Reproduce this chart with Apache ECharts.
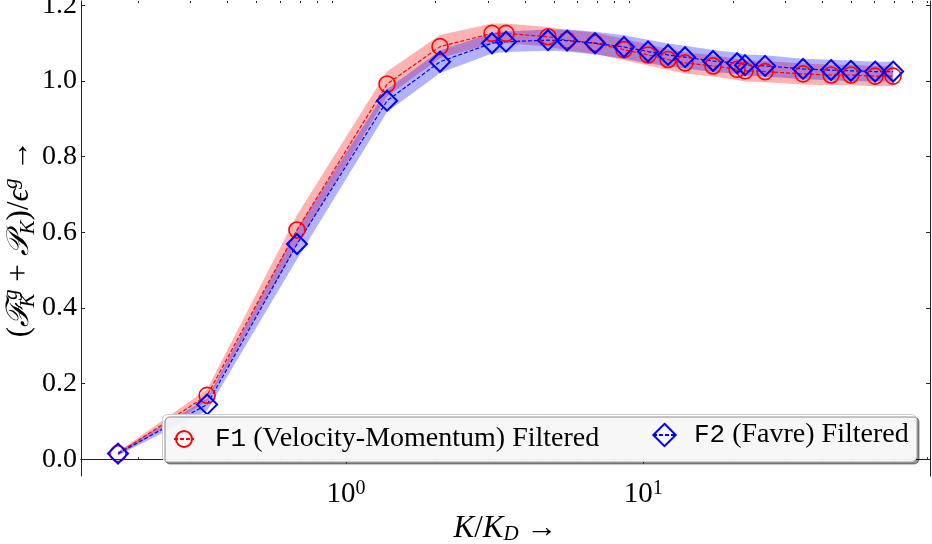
<!DOCTYPE html>
<html><head><meta charset="utf-8">
<script src="https://cdn.jsdelivr.net/npm/echarts@6/dist/echarts.min.js"></script>
<style>html,body{margin:0;padding:0;background:#fff}#c{width:932px;height:544px}</style>
</head><body><div id="c"></div>
<script>
// ---- data ----
const kRatio = [0.171, 0.341, 0.684, 1.374, 2.071, 3.098, 3.452, 4.779, 5.538, 6.879, 8.61, 10.37, 12.11, 13.81, 17.16, 20.67, 21.98, 25.67, 34.45, 42.8, 49.9, 60.2, 69.2];
const f1Values = [0.015, 0.169, 0.606, 0.992, 1.091, 1.126, 1.126, 1.117, 1.108, 1.100, 1.083, 1.069, 1.057, 1.048, 1.040, 1.031, 1.027, 1.025, 1.019, 1.016, 1.016, 1.013, 1.013];
const f2Values = [0.015, 0.145, 0.569, 0.948, 1.051, 1.100, 1.104, 1.108, 1.107, 1.100, 1.090, 1.078, 1.069, 1.063, 1.053, 1.047, 1.042, 1.040, 1.032, 1.029, 1.027, 1.025, 1.025];
const f1Spread = [0.005, 0.016, 0.040, 0.033, 0.031, 0.026, 0.026, 0.026, 0.027, 0.028, 0.028, 0.028, 0.028, 0.028, 0.028, 0.028, 0.028, 0.028, 0.028, 0.027, 0.027, 0.027, 0.027];
const f2Spread = [0.005, 0.016, 0.040, 0.030, 0.030, 0.027, 0.027, 0.028, 0.029, 0.030, 0.031, 0.031, 0.030, 0.030, 0.029, 0.028, 0.028, 0.028, 0.027, 0.027, 0.027, 0.026, 0.026];
const seriesNames = ['F1 (Velocity-Momentum) Filtered', 'F2 (Favre) Filtered'];
const yTicks = [0.0, 0.2, 0.4, 0.6, 0.8, 1.0, 1.2];
const xMajorTicks = [1, 10];
const xMinorTicks = [0.2, 0.3, 0.4, 0.5, 0.6, 0.7, 0.8, 0.9, 2, 3, 4, 5, 6, 7, 8, 9, 20, 30, 40, 50, 60, 70, 80, 90];

const SERIF = "'Liberation Serif', 'DejaVu Serif', serif";
const MONO = "'Liberation Mono', 'DejaVu Sans Mono', monospace";
const X_MIN = 0.1284, X_MAX = 92.1, Y_MIN = -0.0442, Y_MAX = 1.2116;
const AX = '#222';
const gridPos = { left: 81, right: 2, top: 1, bottom: 68, containLabel: false, outerBoundsMode: 'none' };

function bandSeries(name, vals, spread, color) {
  return {
    type: 'custom', name: name, silent: true, z: 1,
    xAxisIndex: 0, yAxisIndex: 0,
    encode: { x: 0, y: 1 },
    data: kRatio.map((k, i) => [k, vals[i]]),
    renderItem: function (params, api) {
      if (params.dataIndex !== 0) return;
      const upper = kRatio.map((k, i) => api.coord([k, vals[i] + spread[i]]));
      const lower = kRatio.map((k, i) => api.coord([k, vals[i] - spread[i]])).reverse();
      return { type: 'polygon', shape: { points: upper.concat(lower) }, style: { fill: color } };
    }
  };
}

function lineSeries(name, vals, color, symbol, size, bw) {
  return {
    type: 'line', name: name, z: 3,
    xAxisIndex: 0, yAxisIndex: 0,
    data: kRatio.map((k, i) => [k, vals[i]]),
    symbol: symbol, symbolSize: size, showAllSymbol: true,
    lineStyle: { color: color, width: 1.2, type: [4, 2] },
    itemStyle: { color: 'rgba(0,0,0,0)', borderColor: color, borderWidth: bw },
    emphasis: { disabled: true }
  };
}

const xLogBase = { type: 'log', logBase: 10, min: X_MIN, max: X_MAX, splitLine: { show: false } };
const legendFmt = function (name) {
  const code = name.slice(0, 2);
  const rest = name.slice(2);
  return '{m|' + code + '}{s|' + rest + '}';
};
const legendRich = function (pad) {
  return {
    m: { fontFamily: MONO, fontSize: 26, color: '#000', padding: [0, 0, 0, pad] },
    s: { fontFamily: SERIF, fontSize: 28, color: '#000' }
  };
};

const option = {
  animation: false,
  backgroundColor: '#fff',
  grid: [Object.assign({}, gridPos), Object.assign({}, gridPos)],
  xAxis: [
    Object.assign({}, xLogBase, {
      gridIndex: 0, position: 'bottom',
      axisLine: { show: true, lineStyle: { color: AX, width: 1 } },
      axisTick: { show: true, inside: true, length: 4, customValues: xMajorTicks, lineStyle: { color: AX } },
      axisLabel: {
        show: true, customValues: xMajorTicks, margin: 3,
        formatter: v => '{b|10}{s|' + Math.round(Math.log10(v)) + '}',
        rich: {
          b: { fontFamily: SERIF, fontSize: 29, color: '#000', lineHeight: 30 },
          s: { fontFamily: SERIF, fontSize: 20, color: '#000', verticalAlign: 'top', lineHeight: 20 }
        }
      },
      name: '{i|K}{p|/}{i|K}{d|D}{a| →}', nameLocation: 'middle', nameGap: 33,
      nameTextStyle: {
        rich: {
          i: { fontFamily: SERIF, fontStyle: 'italic', fontSize: 31, color: '#000', lineHeight: 32 },
          p: { fontFamily: SERIF, fontSize: 31, color: '#000', lineHeight: 32 },
          d: { fontFamily: SERIF, fontStyle: 'italic', fontSize: 21, color: '#000', verticalAlign: 'bottom', lineHeight: 21 },
          a: { fontFamily: SERIF, fontSize: 31, color: '#000', lineHeight: 32 }
        }
      }
    }),
    Object.assign({}, xLogBase, {
      gridIndex: 0, position: 'top',
      axisLine: { show: true, lineStyle: { color: AX, width: 1 } },
      axisTick: { show: true, inside: true, length: 4, customValues: xMajorTicks, lineStyle: { color: AX } },
      axisLabel: { show: false }
    }),
    Object.assign({}, xLogBase, {
      gridIndex: 1, position: 'bottom',
      axisLine: { show: false },
      axisTick: { show: true, inside: true, length: 2, customValues: xMinorTicks, lineStyle: { color: AX } },
      axisLabel: { show: false }
    }),
    Object.assign({}, xLogBase, {
      gridIndex: 1, position: 'top',
      axisLine: { show: false },
      axisTick: { show: true, inside: true, length: 2, customValues: xMinorTicks, lineStyle: { color: AX } },
      axisLabel: { show: false }
    })
  ],
  yAxis: [
    {
      type: 'value', gridIndex: 0, position: 'left', min: Y_MIN, max: Y_MAX,
      splitLine: { show: false },
      axisLine: { show: true, lineStyle: { color: AX, width: 1 } },
      axisTick: { show: true, inside: true, length: 4, customValues: yTicks, lineStyle: { color: AX } },
      axisLabel: {
        show: true, customValues: yTicks, margin: 4,
        formatter: v => v.toFixed(1),
        fontFamily: SERIF, fontSize: 28, color: '#000'
      },
      name: '{t|(}{c|ℱ}{sb|K}{sp|g}{t| + }{c|𝒫}{sb2|K}{t|)/}{e|ϵ}{sp|g}{t| →}',
      nameLocation: 'middle', nameGap: 42, nameRotate: 90, nameMoveOverlap: false,
      nameTextStyle: {
        rich: {
          t: { fontFamily: SERIF, fontSize: 31, color: '#000', lineHeight: 38 },
          c: { fontFamily: SERIF, fontStyle: 'italic', fontSize: 31, color: '#000', lineHeight: 38 },
          e: { fontFamily: SERIF, fontStyle: 'italic', fontSize: 31, color: '#000', lineHeight: 38 },
          sb: { fontFamily: SERIF, fontStyle: 'italic', fontSize: 21, color: '#000', verticalAlign: 'bottom', lineHeight: 21, width: 1 },
          sb2: { fontFamily: SERIF, fontStyle: 'italic', fontSize: 21, color: '#000', verticalAlign: 'bottom', lineHeight: 21 },
          sp: { fontFamily: SERIF, fontStyle: 'italic', fontSize: 21, color: '#000', verticalAlign: 'top', lineHeight: 21 }
        }
      }
    },
    {
      type: 'value', gridIndex: 0, position: 'right', min: Y_MIN, max: Y_MAX,
      splitLine: { show: false },
      axisLine: { show: true, lineStyle: { color: AX, width: 1 } },
      axisTick: { show: true, inside: true, length: 4, customValues: yTicks, lineStyle: { color: AX } },
      axisLabel: { show: false }
    },
    { type: 'value', gridIndex: 1, show: false, min: Y_MIN, max: Y_MAX }
  ],
  legend: [
    {
      data: [seriesNames[0]], left: 173, top: 425, padding: 0, z: 60,
      itemWidth: 20, itemHeight: 20, itemGap: 0,
      formatter: legendFmt,
      textStyle: { rich: legendRich(16) },
      selectedMode: false
    },
    {
      data: [seriesNames[1]], left: 652, top: 421, padding: 0, z: 60,
      itemWidth: 23, itemHeight: 28, itemGap: 0,
      formatter: legendFmt,
      textStyle: { rich: legendRich(13) },
      selectedMode: false
    }
  ],
  graphic: [{
    type: 'rect', z: 50, silent: true,
    shape: { x: 162.5, y: 414.5, width: 754, height: 47, r: 5 },
    style: { fill: 'rgba(255,255,255,0.92)', stroke: '#cccccc', lineWidth: 1,
      shadowColor: 'rgba(0,0,0,0.45)', shadowOffsetX: 2.5, shadowOffsetY: 2.5, shadowBlur: 0 }
  }],
  series: [
    bandSeries('F1 band', f1Values, f1Spread, 'rgba(255,0,0,0.3)'),
    bandSeries('F2 band', f2Values, f2Spread, 'rgba(0,0,255,0.3)'),
    lineSeries(seriesNames[0], f1Values, '#ff0000', 'circle', 16, 1.6),
    lineSeries(seriesNames[1], f2Values, '#0000ff', 'diamond', 20, 2)
  ]
};

const chart = echarts.init(document.getElementById('c'), null, { renderer: 'canvas' });
chart.setOption(option);
</script>
</body></html>
